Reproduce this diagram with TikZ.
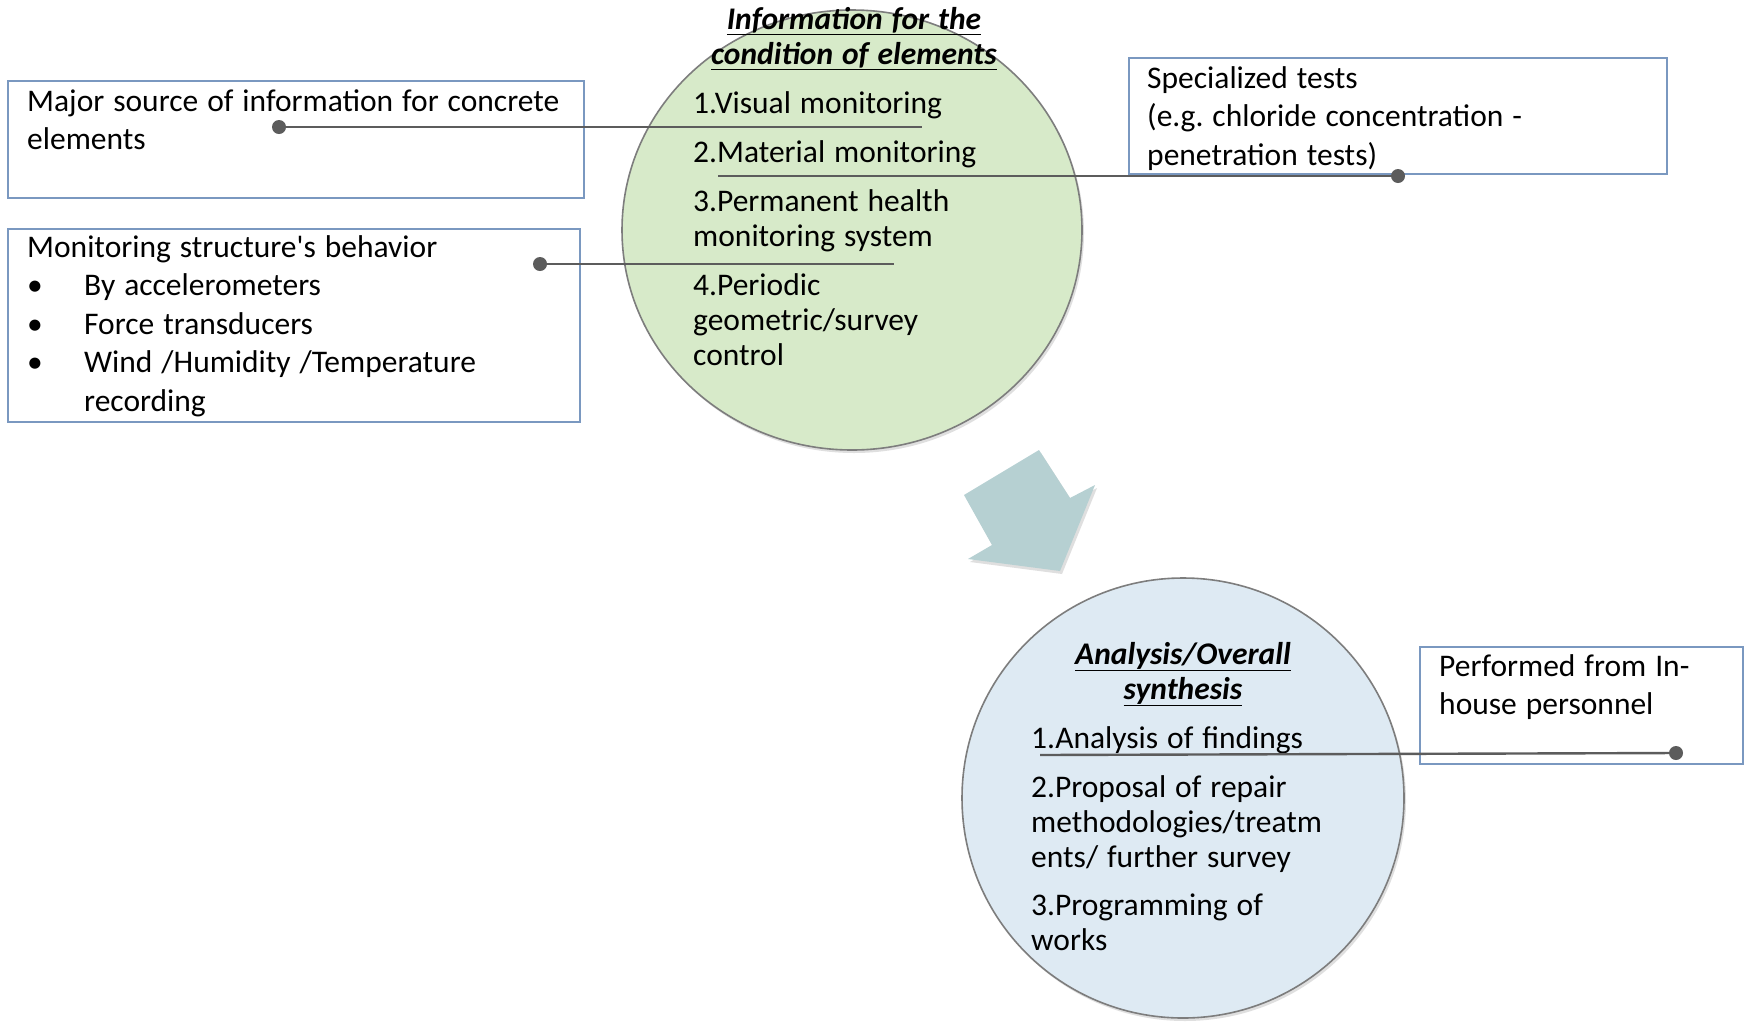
\documentclass[tikz,border=0pt]{standalone}
\usepackage{fontspec}
\setmainfont{Carlito}
\usetikzlibrary{shapes.geometric,shadows}
\definecolor{topfill}{RGB}{215,234,201}
\definecolor{botfill}{RGB}{222,234,243}
\definecolor{arrowfill}{RGB}{182,208,210}
\definecolor{boxline}{RGB}{122,152,192}
\definecolor{linegray}{RGB}{92,92,92}
\definecolor{circline}{RGB}{125,125,125}
\frenchspacing
\DeclareRobustCommand\tightspaces{\spaceskip=0.285em\relax}
\begin{document}
\begin{tikzpicture}[x=1pt,y=-1pt,
  infobox/.style={draw=boxline, line width=1.6pt, fill=white},
  bigcircle/.style={ellipse, draw=circline, line width=1.6pt, inner sep=0,
    drop shadow={opacity=0.25, shadow xshift=2pt, shadow yshift=-3pt}},
  boxtxt/.style={anchor=base west, inner sep=0, align=left, text width=#1,
    font=\fontsize{31.5}{38.5}\selectfont, execute at begin node=\tightspaces},
  circtxt/.style={anchor=base west, inner sep=0, align=left, text width=#1,
    font=\fontsize{31.5}{35}\selectfont, execute at begin node=\tightspaces},
  titletxt/.style={anchor=base, inner sep=0, align=center, text width=#1,
    font=\fontsize{31.5}{35}\selectfont\bfseries\itshape, execute at begin node=\tightspaces},
  conn/.style={draw=linegray, line width=2.4pt},
  dotend/.style={circle, fill=linegray, inner sep=0, minimum size=14pt}]
\useasboundingbox[fill=white] (0,0) rectangle (1750,1021);

% boxes
\draw[infobox] (8,81) rectangle (584,198);
\draw[infobox] (8,229) rectangle (580,422);
\draw[infobox] (1129,58) rectangle (1667,174);
\draw[infobox] (1420,647) rectangle (1743,764);

% circles
\node[bigcircle, fill=topfill, minimum width=460pt, minimum height=440pt] (topc) at (852,230) {};
\node[bigcircle, fill=botfill, minimum width=442pt, minimum height=440pt] (botc) at (1183,798) {};

% big arrow
\fill[arrowfill, drop shadow={opacity=0.25, shadow xshift=2pt, shadow yshift=-3pt}]
  (1039,450) -- (1070,498) -- (1095,485) -- (1060,571) -- (968,559) -- (992,545) -- (964,495) -- cycle;

% top circle text
\node[titletxt=420pt] (ttitle) at (854,29) {\underline{Information for the}\\\underline{condition of elements}};
\node[circtxt=360pt] (t1) at (693,113) {1.Visual monitoring};
\node[circtxt=360pt] (t2) at (693,162) {2.Material monitoring};
\node[circtxt=360pt] (t3) at (693,211) {3.Permanent health\\monitoring system};
\node[circtxt=360pt] (t4) at (693,295) {4.Periodic\\geometric/survey\\control};

% bottom circle text
\node[titletxt=400pt] (btitle) at (1183,664) {\underline{Analysis/Overall}\\\underline{synthesis}};
\node[circtxt=360pt] (b1) at (1031,748) {1.Analysis of findings};
\node[circtxt=360pt] (b2) at (1031,797) {2.Proposal of repair\\methodologies/treatm\\ents/ further survey};
\node[circtxt=360pt] (b3) at (1031,915) {3.Programming of\\works};

% box texts
\node[boxtxt=555pt] (x1) at (27,111) {Major source of information for concrete\\elements};
\node[boxtxt=550pt] (x2) at (27,257) {Monitoring structure\textquotesingle s behavior\\
  \makebox[57pt][l]{\textbullet}By accelerometers\\
  \makebox[57pt][l]{\textbullet}Force transducers\\
  \makebox[57pt][l]{\textbullet}Wind /Humidity /Temperature\\
  \hspace*{57pt}recording};
\node[boxtxt=515pt] (x3) at (1147,88) {Specialized tests\\(e.g. chloride concentration -\\penetration tests)};
\node[boxtxt=300pt] (x4) at (1439,676) {Performed from In-\\house personnel};

% connectors
\node[dotend] (d1) at (279,127) {};
\coordinate (c1) at (922,127);
\draw[conn] (d1.center) -- (c1);
\coordinate (c2) at (718,176);
\node[dotend] (d2) at (1398,176) {};
\draw[conn] (c2) -- (d2.center);
\node[dotend] (d3) at (540,264) {};
\coordinate (c3) at (894,264);
\draw[conn] (d3.center) -- (c3);
\coordinate (c4) at (1040,755);
\node[dotend] (d4) at (1676,753) {};
\draw[conn] (c4) -- (d4.center);
\end{tikzpicture}
\end{document}
